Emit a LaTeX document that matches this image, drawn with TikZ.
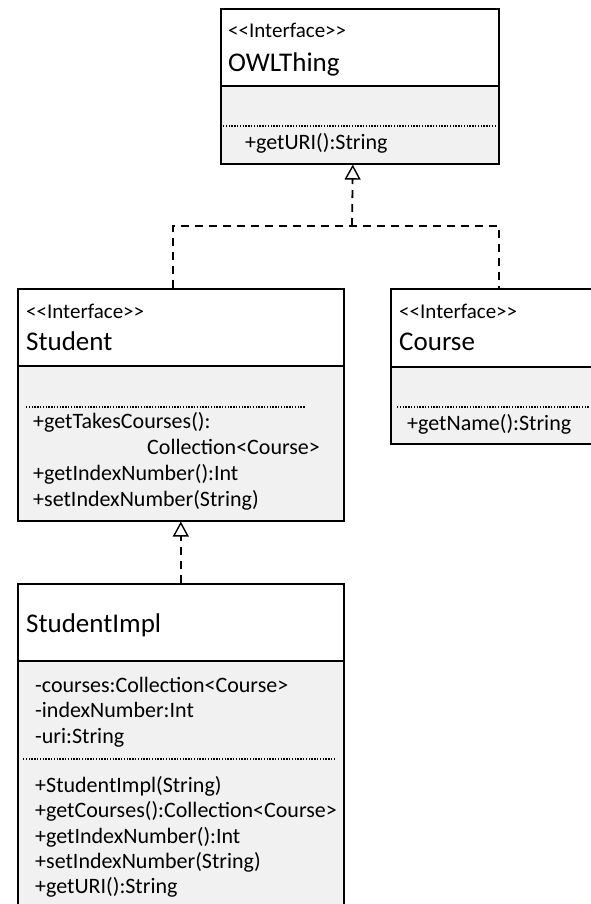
\documentclass[tikz,border=0pt]{standalone}
\usepackage{fontspec}
\setmainfont{Carlito}
\usepackage{xcolor}
\usepackage{tikz}
\usetikzlibrary{arrows.meta}
\definecolor{bodygray}{HTML}{F1F1F1}
\newcommand{\stereo}{\fontsize{21}{25}\selectfont}
\newcommand{\clsname}{\fontsize{27}{32}\selectfont}
\newcommand{\member}{\fontsize{22}{26}\selectfont}
\newcommand{\ifc}{<\kern0pt<Interface>\kern0pt>}

\begin{document}
\begin{tikzpicture}[
  x=1pt, y=-1pt,
  classhead/.style={draw, line width=1.6pt, fill=white, anchor=north west, inner sep=0pt},
  classbody/.style={classhead, fill=bodygray},
  st/.style={anchor=base west, inner sep=0pt, font=\stereo},
  nm/.style={anchor=base west, inner sep=0pt, font=\clsname},
  mb/.style={anchor=base west, inner sep=0pt, font=\member},
  sep/.style={line width=1.6pt, dash pattern=on 1.4pt off 1.4pt},
  realize/.style={line width=1.8pt, dash pattern=on 8pt off 6pt},
  gen/.style={realize, -{Triangle[fill=white, length=15pt, width=16pt, line width=1.4pt]}}
]
\useasboundingbox (0,0) rectangle (590,904);

% OWLThing
\node[classhead, minimum width=278pt, minimum height=77pt] (owlhead) at (220,8) {};
\node[classbody, minimum width=278pt, minimum height=78pt] (owlbody) at (220,85) {};
\draw[sep] (223,126) -- (495,126);
\node[st] (owlst) at (228,38) {\ifc};
\node[nm] (owlname) at (228,72) {OWLThing};
\node[mb] (owlm1) at (245,150) {+getURI():String};

% Student
\node[classhead, minimum width=326pt, minimum height=77pt] (stuhead) at (17,288) {};
\node[classbody, minimum width=326pt, minimum height=155pt] (stubody) at (17,365) {};
\draw[sep] (26,407) -- (305,407);
\node[st] (stust) at (26,318) {\ifc};
\node[nm] (stuname) at (26,350) {Student};
\node[mb] (stum1) at (33,428) {+getTakesCourses():};
\node[mb] (stum1b) at (147,454) {Collection<Course>};
\node[mb] (stum2) at (33,480) {+getIndexNumber():Int};
\node[mb] (stum3) at (33,506) {+setIndexNumber(String)};

% Course
\node[classhead, minimum width=216pt, minimum height=78pt] (courhead) at (390,288) {};
\node[classbody, minimum width=216pt, minimum height=77pt] (courbody) at (390,366) {};
\draw[sep] (397,407) -- (590,407);
\node[st] (courst) at (399,318) {\ifc};
\node[nm] (courname) at (399,350) {Course};
\node[mb] (courm1) at (407,430) {+getName():String};

% StudentImpl
\node[classhead, minimum width=326pt, minimum height=77pt] (implhead) at (17,583) {};
\node[classbody, minimum width=326pt, minimum height=290pt] (implbody) at (17,660) {};
\draw[sep] (23,759) -- (335,759);
\node[nm] (implname) at (26,632) {StudentImpl};
\node[mb] (impla1) at (35,692) {-courses:Collection<Course>};
\node[mb] (impla2) at (35,717) {-indexNumber:Int};
\node[mb] (impla3) at (35,743) {-uri:String};
\node[mb] (implm1) at (35,792) {+StudentImpl(String)};
\node[mb] (implm2) at (35,817) {+getCourses():Collection<Course>};
\node[mb] (implm3) at (35,843) {+getIndexNumber():Int};
\node[mb] (implm4) at (35,868) {+setIndexNumber(String)};
\node[mb] (implm5) at (35,893) {+getURI():String};

% realizations
\coordinate (bend) at (352,226);
\draw[realize] ([xshift=-8pt]stuhead.north) |- (bend) -| (courhead.north);
\draw[gen] (bend) -- ([xshift=-7pt]owlbody.south);
\draw[gen] (implhead.north) -- (stubody.south);
\end{tikzpicture}
\end{document}
